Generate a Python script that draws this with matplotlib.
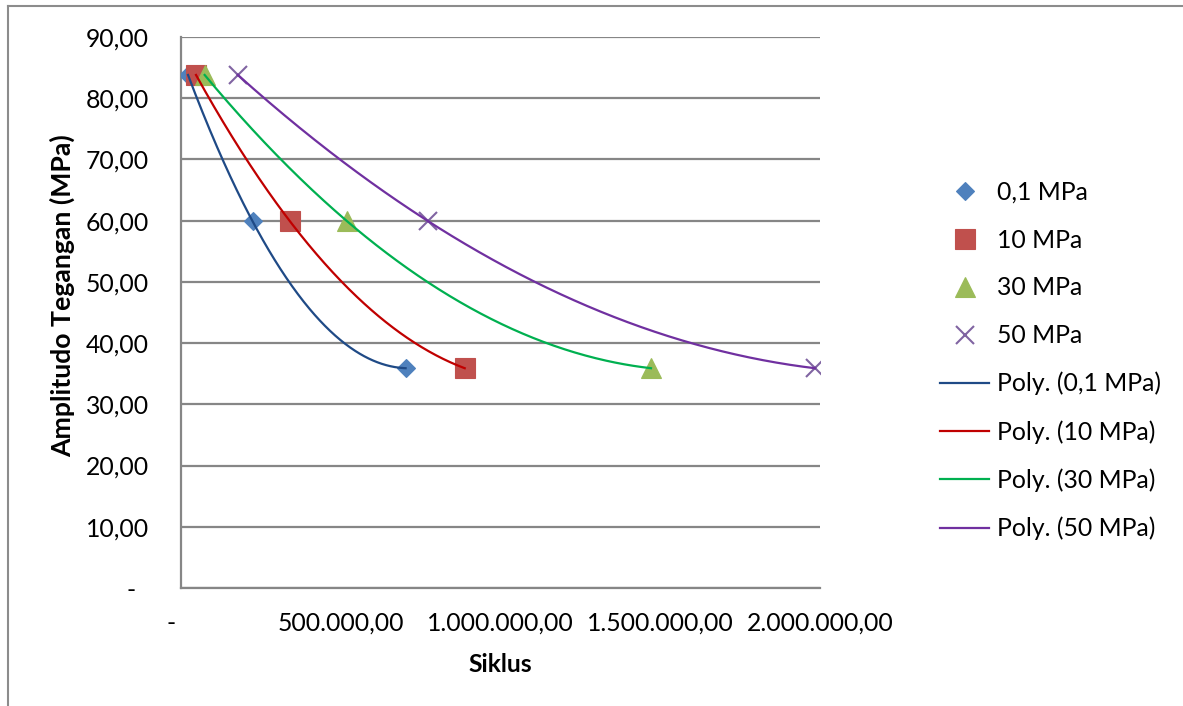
import numpy as np
import matplotlib
matplotlib.use('Agg')
import matplotlib.pyplot as plt
from matplotlib.lines import Line2D
from matplotlib.ticker import FuncFormatter, MultipleLocator

plt.rcParams['font.family'] = ['Lato', 'DejaVu Sans']

# data
amplitudo = [83.8, 59.9, 35.9]
siklus_01 = [22000, 224000, 703000]
siklus_10 = [47000, 341000, 888000]
siklus_30 = [74000, 520000, 1471000]
siklus_50 = [178000, 774000, 1984000]
labels = ['0,1 MPa', '10 MPa', '30 MPa', '50 MPa']

series = [siklus_01, siklus_10, siklus_30, siklus_50]
markers = ['D', 's', '^', 'x']
msizes = [9.5, 14, 15, 13]
mcolors = ['#4F81BD', '#C0504D', '#9BBB59', '#8064A2']
lcolors = ['#1F4A86', '#C00000', '#00B050', '#7030A0']

W, H = 1183, 706
fig = plt.figure(figsize=(W / 100, H / 100), dpi=100)
ax = fig.add_axes([181 / W, 1 - 588 / H, (820 - 181) / W, (588 - 37) / H])

# chart area border (left and top visible)
fig.add_artist(Line2D([8 / W, 8 / W], [0, 1 - 6 / H], transform=fig.transFigure,
                      color='#8C8C8C', lw=1.5))
fig.add_artist(Line2D([8 / W, 1], [1 - 6 / H, 1 - 6 / H], transform=fig.transFigure,
                      color='#8C8C8C', lw=1.5))

handles_pts = []
handles_lin = []
for xs, mk, ms, mc, lc, lab in zip(series, markers, msizes, mcolors, lcolors, labels):
    if mk == 'x':
        h, = ax.plot(xs, amplitudo, linestyle='none', marker=mk, ms=ms, mew=1.5,
                     color=mc, zorder=3, label=lab)
    else:
        h, = ax.plot(xs, amplitudo, linestyle='none', marker=mk, ms=ms, mew=0.8,
                     color=mc, mec=mc, zorder=3, label=lab)
    handles_pts.append(h)
    # polynomial trendline (order 2), like Excel's
    c = np.polyfit(xs, amplitudo, 2)
    xx = np.linspace(xs[0], xs[-1], 300)
    l, = ax.plot(xx, np.polyval(c, xx), color=lc, lw=1.6, zorder=4,
                 label='Poly. (' + lab + ')')
    handles_lin.append(l)

ax.set_xlim(0, 2000000)
ax.set_ylim(0, 90)
ax.xaxis.set_major_locator(MultipleLocator(500000))
ax.yaxis.set_major_locator(MultipleLocator(10))


def fmt_num(v, pos):
    if abs(v) < 1e-9:
        return '-  '
    s = '{:,.2f}'.format(v)
    return s.replace(',', '#').replace('.', ',').replace('#', '.')


def fmt_x(v, pos):
    if abs(v) < 1e-9:
        return '-   '
    return fmt_num(v, pos)


ax.yaxis.set_major_formatter(FuncFormatter(fmt_num))
ax.xaxis.set_major_formatter(FuncFormatter(fmt_x))
ax.tick_params(axis='both', length=0, labelsize=17.8, colors='black')
ax.tick_params(axis='y', pad=23)
ax.tick_params(axis='x', pad=17)

ax.grid(axis='y', color='#868686', lw=1.6)
ax.set_axisbelow(True)
for s in ['top', 'right']:
    ax.spines[s].set_visible(False)
for s in ['left', 'bottom']:
    ax.spines[s].set_color('#868686')
    ax.spines[s].set_linewidth(1.6)

ax.set_xlabel('Siklus', fontsize=17.8, fontweight='bold')
ax.set_ylabel('Amplitudo Tegangan (MPa)', fontsize=19.2, fontweight='bold')
ax.xaxis.label.set_va('center')
ax.yaxis.label.set_va('center')
ax.xaxis.set_label_coords(0.5, -(664 - 588) / (588 - 37))
ax.yaxis.set_label_coords(-(181 - 62) / (820 - 181), (588 - 296) / (588 - 37))

fig.legend(handles_pts + handles_lin, [h.get_label() for h in handles_pts + handles_lin],
           loc='upper left', bbox_to_anchor=(940 / W, 1 - 181 / H), frameon=False,
           fontsize=17.8, numpoints=1, handlelength=2.0, handletextpad=0.3,
           labelspacing=1.0, borderpad=0, borderaxespad=0)

fig.savefig('out.png', dpi=100, facecolor='white')
